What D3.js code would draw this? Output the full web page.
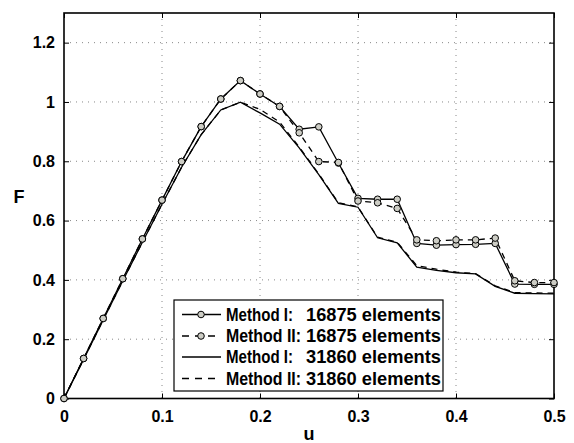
<html>
<head>
    <meta charset="utf-8" />
    <script src="https://cdn.jsdelivr.net/npm/d3@7/dist/d3.min.js"></script>
</head>
<style>
    body { margin: 0; background: #fff; }
    text { font-family: "Liberation Sans", Arial, sans-serif; font-weight: bold; }
</style>
<body>
<svg id="chart" width="574" height="443"></svg>
<script>
// displacement steps
var u = [0, 0.02, 0.04, 0.06, 0.08, 0.10, 0.12, 0.14, 0.16, 0.18, 0.20, 0.22, 0.24,
         0.26, 0.28, 0.30, 0.32, 0.34, 0.36, 0.38, 0.40, 0.42, 0.44, 0.46, 0.48, 0.50];

var m1coarse = [0, 0.135, 0.270, 0.404, 0.538, 0.669, 0.799, 0.917, 1.010, 1.072, 1.027, 0.985, 0.908,
                0.916, 0.794, 0.675, 0.672, 0.672, 0.523, 0.517, 0.519, 0.520, 0.523, 0.386, 0.385, 0.385];
var m2coarse = [0, 0.135, 0.270, 0.404, 0.538, 0.669, 0.799, 0.917, 1.010, 1.072, 1.027, 0.985, 0.896,
                0.799, 0.796, 0.666, 0.660, 0.641, 0.535, 0.532, 0.535, 0.535, 0.541, 0.397, 0.391, 0.391];
var m1fine   = [0, 0.132, 0.265, 0.397, 0.527, 0.655, 0.780, 0.890, 0.973, 0.999, 0.963, 0.925, 0.845,
                0.755, 0.658, 0.645, 0.542, 0.525, 0.443, 0.432, 0.424, 0.420, 0.378, 0.355, 0.354, 0.353];
var m2fine   = [0, 0.132, 0.265, 0.397, 0.527, 0.655, 0.780, 0.890, 0.973, 0.999, 0.975, 0.932, 0.848,
                0.757, 0.660, 0.646, 0.544, 0.527, 0.448, 0.436, 0.426, 0.421, 0.380, 0.357, 0.356, 0.355];

var xTicks = [0, 0.1, 0.2, 0.3, 0.4, 0.5];
var yTicks = [0, 0.2, 0.4, 0.6, 0.8, 1, 1.2];
var legendLabels = [["Method I:", "16875 elements"], ["Method II:", "16875 elements"],
                    ["Method I:", "31860 elements"], ["Method II:", "31860 elements"]];

var series = [
    { vals: m1coarse, dash: null, marker: true },
    { vals: m2coarse, dash: "6,5", marker: true },
    { vals: m1fine, dash: null, marker: false },
    { vals: m2fine, dash: "6,5", marker: false }
];

var L = 64, R = 554, T = 13, B = 398.5;
var svg = d3.select("#chart");

var x = d3.scaleLinear().domain([0, 0.5]).range([L, R]);
var y = d3.scaleLinear().domain([0, 1.3]).range([B, T]);

// grid
svg.append("g").selectAll("line").data(xTicks.slice(1, -1)).enter().append("line")
    .attr("x1", function(d) { return x(d); }).attr("x2", function(d) { return x(d); })
    .attr("y1", T).attr("y2", B)
    .attr("stroke", "#888").attr("stroke-width", 1).attr("stroke-dasharray", "1,5");
svg.append("g").selectAll("line").data(yTicks.slice(1)).enter().append("line")
    .attr("x1", L).attr("x2", R)
    .attr("y1", function(d) { return y(d); }).attr("y2", function(d) { return y(d); })
    .attr("stroke", "#888").attr("stroke-width", 1).attr("stroke-dasharray", "1,5");

// axes with inner ticks, box all around
svg.append("g").attr("transform", "translate(0," + B + ")")
    .call(d3.axisBottom(x).tickValues(xTicks).tickSizeInner(-5).tickSizeOuter(0).tickPadding(12)
        .tickFormat(function(d) { return d === 0 ? "0" : d3.format(".1f")(d); }));
svg.append("g").attr("transform", "translate(0," + T + ")")
    .call(d3.axisTop(x).tickValues(xTicks).tickSizeInner(-5).tickSizeOuter(0).tickFormat(""));
svg.append("g").attr("transform", "translate(" + L + ",0)")
    .call(d3.axisLeft(y).tickValues(yTicks).tickSizeInner(-5).tickSizeOuter(0).tickPadding(9)
        .tickFormat(function(d) { return d === 0 || d === 1 ? String(d) : d3.format(".1f")(d); }));
svg.append("g").attr("transform", "translate(" + R + ",0)")
    .call(d3.axisRight(y).tickValues(yTicks).tickSizeInner(-5).tickSizeOuter(0).tickFormat(""));

svg.selectAll(".domain").remove();
svg.selectAll(".tick line").attr("stroke", "#000").attr("stroke-width", 1);
svg.selectAll(".tick text").attr("font-size", 16).attr("fill", "#000")
    .style("font-family", "'Liberation Sans', Arial, sans-serif").style("font-weight", "bold");
svg.append("rect").attr("x", L).attr("y", T).attr("width", R - L).attr("height", B - T)
    .attr("fill", "none").attr("stroke", "#000").attr("stroke-width", 1.6);

// curves
var line = d3.line().x(function(d, i) { return x(u[i]); }).y(function(d) { return y(d); });
series.forEach(function(s) {
    svg.append("path").datum(s.vals).attr("d", line)
        .attr("fill", "none").attr("stroke", "#000").attr("stroke-width", 1.3)
        .attr("stroke-dasharray", s.dash);
});
series.forEach(function(s) {
    if (!s.marker) return;
    svg.append("g").selectAll("circle").data(s.vals).enter().append("circle")
        .attr("cx", function(d, i) { return x(u[i]); })
        .attr("cy", function(d) { return y(d); })
        .attr("r", 3.3).attr("fill", "#cdcdc5").attr("stroke", "#000").attr("stroke-width", 1);
});

// axis labels
svg.append("text").attr("x", 19).attr("y", 203).attr("text-anchor", "middle")
    .attr("font-size", 18).text("F");
svg.append("text").attr("x", 309).attr("y", 440).attr("text-anchor", "middle")
    .attr("font-size", 18).text("u");

// legend
var lg = svg.append("g");
lg.append("rect").attr("x", 174).attr("y", 300).attr("width", 269).attr("height", 91)
    .attr("fill", "#fff").attr("stroke", "#000").attr("stroke-width", 1.2);
var rowsY = [314.5, 336, 357, 378.5];
series.forEach(function(s, i) {
    var ry = rowsY[i];
    lg.append("line").attr("x1", 182).attr("x2", 221).attr("y1", ry).attr("y2", ry)
        .attr("stroke", "#000").attr("stroke-width", 1.3).attr("stroke-dasharray", s.dash ? "7,6" : null);
    if (s.marker) {
        lg.append("circle").attr("cx", 201).attr("cy", ry).attr("r", 3.3)
            .attr("fill", "#cdcdc5").attr("stroke", "#000");
    }
    lg.append("text").attr("x", 226).attr("y", ry + 6).attr("font-size", 17.5)
        .attr("textLength", i % 2 ? 75 : 67).attr("lengthAdjust", "spacingAndGlyphs")
        .text(legendLabels[i][0]);
    lg.append("text").attr("x", 306).attr("y", ry + 6).attr("font-size", 17.5)
        .attr("textLength", 135).attr("lengthAdjust", "spacingAndGlyphs")
        .text(legendLabels[i][1]);
});
</script>
</body>
</html>
